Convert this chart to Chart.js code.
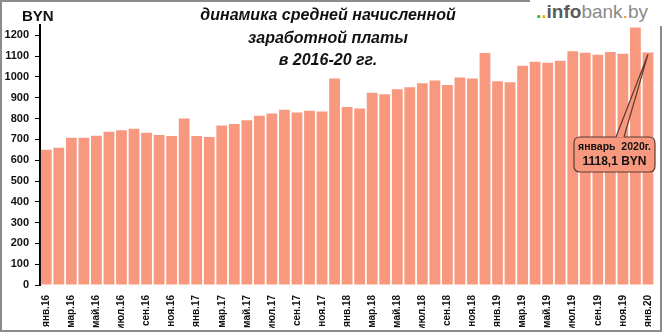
<!DOCTYPE html>
<html>
<head>
<meta charset="utf-8">
<script src="https://cdn.jsdelivr.net/npm/chart.js@4.4.0/dist/chart.umd.min.js"></script>
<style>
  body { margin: 0; background: #fff; }
  .wrap { position: relative; width: 662px; height: 332px; overflow: hidden; }
  .frame {
    position: absolute; left: 0; top: 0; width: 662px; height: 332px;
    box-sizing: border-box; border: 2px solid #8c8c8c; pointer-events: none;
  }
  .title {
    position: absolute; left: 180px; width: 296px; text-align: center;
    font: italic bold 16px "Liberation Sans", Arial, sans-serif; color: #111;
  }
  .unit {
    position: absolute; left: 22px; top: 7px;
    font: bold 15px "Liberation Sans", Arial, sans-serif; color: #111;
  }
  .logo {
    position: absolute; left: 530px; top: 0; width: 132px; height: 26px; background: #fff;
    font: 19px "Liberation Sans", Arial, sans-serif; color: #8a8a8a; line-height: 24px;
    padding-left: 6px; box-sizing: border-box;
  }
  .logo .d1 { color: #3caa3c; font-weight: bold; }
  .logo .d2 { color: #f0b400; font-weight: bold; }
  .logo .info { color: #5a5a5a; font-weight: bold; }
  .logo .dot { color: #f08a1c; }
</style>
</head>
<body>
<div class="wrap">
  <canvas id="chart" width="662" height="332"></canvas>
  <div class="frame"></div>
  <div class="unit">BYN</div>
  <div class="title" style="top:6px">динамика средней начисленной</div>
  <div class="title" style="top:29px">заработной платы</div>
  <div class="title" style="top:51px">в 2016-20 гг.</div>
  <div class="logo"><span class="d1">.</span><span class="d2">.</span><span class="info">info</span>bank<span class="dot">.</span>by</div>
</div>
<script>
  // месяцы янв.16 - янв.20
  var months = [
    'янв.16', 'фев.16', 'мар.16', 'апр.16', 'май.16', 'июн.16', 'июл.16', 'авг.16', 'сен.16', 'окт.16', 'ноя.16', 'дек.16',
    'янв.17', 'фев.17', 'мар.17', 'апр.17', 'май.17', 'июн.17', 'июл.17', 'авг.17', 'сен.17', 'окт.17', 'ноя.17', 'дек.17',
    'янв.18', 'фев.18', 'мар.18', 'апр.18', 'май.18', 'июн.18', 'июл.18', 'авг.18', 'сен.18', 'окт.18', 'ноя.18', 'дек.18',
    'янв.19', 'фев.19', 'мар.19', 'апр.19', 'май.19', 'июн.19', 'июл.19', 'авг.19', 'сен.19', 'окт.19', 'ноя.19', 'дек.19',
    'янв.20'
  ];

  // средняя начисленная зарплата, BYN
  var salary = [
    650.6, 660.3, 708, 707.5, 717.6, 736.3, 744.2, 751.7, 731.4, 721.4, 716.5, 800,
    716, 712, 767, 774, 792, 814, 824, 843, 829, 838, 834, 993,
    856, 848, 924, 917, 941, 951, 970, 983, 961, 997, 993, 1115,
    980, 975, 1054, 1073, 1068, 1078, 1124, 1117, 1107, 1120, 1112, 1238,
    1118.1
  ];

  var yTicks = [0, 100, 200, 300, 400, 500, 600, 700, 800, 900, 1000, 1100, 1200];

  var calloutLines = ['январь  2020г.', '1118,1 BYN'];

  var barColor = '#f8997f';

  // выноска к последнему столбцу
  var calloutPlugin = {
    id: 'callout',
    afterDatasetsDraw: function (chart) {
      var ctx = chart.ctx;
      var last = salary.length - 1;
      var tipX = chart.scales.x.getPixelForValue(last);
      var tipY = chart.scales.y.getPixelForValue(salary[last]);
      var bx = 574, by = 137, bw = 81, bh = 35, r = 6;

      ctx.save();
      ctx.strokeStyle = '#5e3a2c';
      ctx.lineWidth = 1.2;
      ctx.fillStyle = barColor;
      ctx.beginPath();
      ctx.moveTo(bx + r, by);
      ctx.lineTo(bx + bw - r, by);
      ctx.quadraticCurveTo(bx + bw, by, bx + bw, by + r);
      ctx.lineTo(bx + bw, by + bh - r);
      ctx.quadraticCurveTo(bx + bw, by + bh, bx + bw - r, by + bh);
      ctx.lineTo(bx + r, by + bh);
      ctx.quadraticCurveTo(bx, by + bh, bx, by + bh - r);
      ctx.lineTo(bx, by + r);
      ctx.quadraticCurveTo(bx, by, bx + r, by);
      ctx.closePath();
      ctx.fill();
      ctx.stroke();

      // клин указателя
      ctx.beginPath();
      ctx.moveTo(bx + 42, by + 0.5);
      ctx.lineTo(tipX, tipY + 2);
      ctx.lineTo(bx + 50, by + 0.5);
      ctx.closePath();
      ctx.fill();
      ctx.beginPath();
      ctx.moveTo(bx + 42, by);
      ctx.lineTo(tipX, tipY + 2);
      ctx.lineTo(bx + 50, by);
      ctx.stroke();

      ctx.fillStyle = '#111';
      ctx.textAlign = 'center';
      ctx.textBaseline = 'middle';
      ctx.font = 'bold 10.5px "Liberation Sans", Arial, sans-serif';
      ctx.fillText(calloutLines[0], bx + bw / 2, by + 10);
      ctx.font = 'bold 12px "Liberation Sans", Arial, sans-serif';
      ctx.fillText(calloutLines[1], bx + bw / 2, by + 25);
      ctx.restore();
    }
  };

  new Chart(document.getElementById('chart').getContext('2d'), {
    type: 'bar',
    data: {
      labels: months,
      datasets: [{
        data: salary,
        backgroundColor: barColor,
        borderWidth: 0,
        categoryPercentage: 1,
        barPercentage: 0.86
      }]
    },
    options: {
      responsive: false,
      animation: false,
      devicePixelRatio: 1,
      layout: { padding: { left: 2, right: 5, top: 25, bottom: 4 } },
      plugins: {
        legend: { display: false },
        tooltip: { enabled: false }
      },
      scales: {
        x: {
          grid: { display: false },
          border: { display: false },
          afterFit: function (scale) { scale.height = 43; },
          ticks: {
            autoSkip: false,
            minRotation: 90,
            maxRotation: 90,
            padding: 2,
            color: '#111',
            font: { family: '"Liberation Sans", Arial, sans-serif', size: 10, weight: 'bold' },
            callback: function (v, i) { return i % 2 === 0 ? months[i] : ''; }
          }
        },
        y: {
          min: 0,
          max: 1250,
          afterBuildTicks: function (scale) {
            scale.ticks = yTicks.map(function (v) { return { value: v }; });
          },
          afterFit: function (scale) { scale.width = 38; },
          grid: { drawOnChartArea: false, drawTicks: true, tickLength: 5, color: '#000', lineWidth: 1 },
          border: { display: true, color: '#000', width: 2 },
          ticks: {
            autoSkip: false,
            padding: 6,
            color: '#111',
            font: { family: '"Liberation Sans", Arial, sans-serif', size: 11, weight: 'bold' },
            callback: function (v) { return String(v); }
          }
        }
      }
    },
    plugins: [calloutPlugin]
  });
</script>
</body>
</html>
